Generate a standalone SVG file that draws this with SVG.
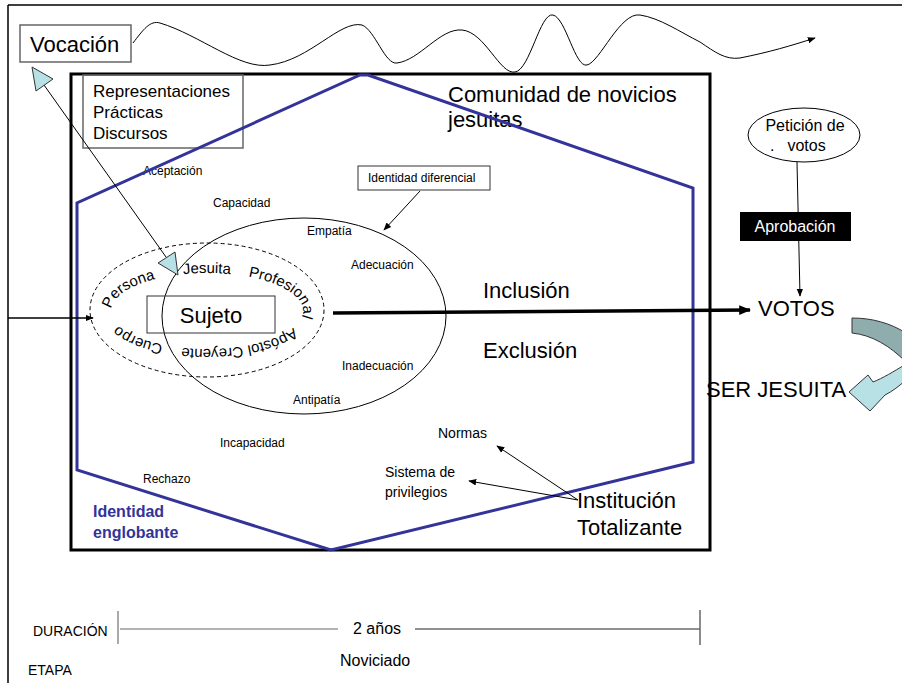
<svg xmlns="http://www.w3.org/2000/svg" width="902" height="683" viewBox="0 0 902 683">
<style>
text{font-family:"Liberation Sans",Arial,sans-serif;fill:#000}
.t12{font-size:12px}
.t14{font-size:14px}
.t15{font-size:15px}
.t16{font-size:16px}
.t17{font-size:17px}
.t22{font-size:22px}
.ln{fill:none;stroke:#000;stroke-width:1}
.box{fill:none;stroke:#666;stroke-width:1.5}
.tri{fill:#b7e1e4;stroke:#333;stroke-width:1}
.blue{fill:#333399;font-weight:bold;font-size:16px}
</style>
<defs>
<marker id="ah" viewBox="0 0 10 10" refX="9" refY="5" markerWidth="8" markerHeight="8" markerUnits="userSpaceOnUse" orient="auto"><path d="M0,1 L10,5 L0,9 z" fill="#000"/></marker>
<marker id="ahb" viewBox="0 0 10 10" refX="9" refY="5" markerWidth="12" markerHeight="12" markerUnits="userSpaceOnUse" orient="auto"><path d="M0,1 L10,5 L0,9 z" fill="#000"/></marker>
<path id="ring" d="M111,311 A96,38 0 1,1 303,311 A96,38 0 1,1 111,311"/>
</defs>

<g id="frame">
<path d="M8,5 H902 M8,5 V683" fill="none" stroke="#000" stroke-width="1.5"/>
</g>

<g id="institution-box">
<rect x="71" y="74" width="639" height="476" fill="none" stroke="#000" stroke-width="3"/>
</g>

<g id="vocacion">
<rect x="20" y="25" width="111" height="37" fill="#fff" stroke="#666" stroke-width="1.5"/>
<text class="t22" x="30" y="52">Vocación</text>
</g>

<g id="representaciones">
<rect class="box" x="83" y="75" width="160" height="73"/>
<text class="t17" x="93" y="97">Representaciones</text>
<text class="t17" x="93" y="118">Prácticas</text>
<text class="t17" x="93" y="139">Discursos</text>
</g>

<g id="comunidad">
<text class="t22" x="448" y="102">Comunidad de novicios</text>
<text class="t22" x="448" y="127">jesuitas</text>
</g>

<g id="labels-inner">
<text class="t12" x="143" y="175">Aceptación</text>
<text class="t12" x="213" y="207">Capacidad</text>
<text class="t12" x="307" y="235">Empatía</text>
<text class="t12" x="351" y="269">Adecuación</text>
<text class="t12" x="342" y="370">Inadecuación</text>
<text class="t12" x="293" y="404">Antipatía</text>
<text class="t12" x="220" y="447">Incapacidad</text>
<text class="t12" x="143" y="483">Rechazo</text>
</g>

<g id="identidad-diferencial">
<rect x="358" y="166" width="132" height="24" fill="#fff" stroke="#333" stroke-width="1"/>
<text class="t12" x="368" y="182">Identidad diferencial</text>
</g>

<g id="big-ellipse">
<ellipse cx="304" cy="316" rx="142" ry="98" fill="none" stroke="#000" stroke-width="1"/>
</g>

<g id="dashed-ellipse">
<ellipse cx="207" cy="310" rx="117" ry="67" fill="none" stroke="#000" stroke-width="1" stroke-dasharray="4 3"/>
<text class="t15" text-anchor="middle"><textPath href="#ring" startOffset="30">Persona</textPath></text>
<text class="t15" text-anchor="middle"><textPath href="#ring" startOffset="110">Jesuita</textPath></text>
<text class="t15" text-anchor="middle"><textPath href="#ring" startOffset="189">Profesional</textPath></text>
<text class="t15" text-anchor="middle"><textPath href="#ring" startOffset="265">Apóstol</textPath></text>
<text class="t15" text-anchor="middle"><textPath href="#ring" startOffset="325">Creyente</textPath></text>
<text class="t15" text-anchor="middle"><textPath href="#ring" startOffset="399">Cuerpo</textPath></text>
</g>

<g id="sujeto">
<rect x="147" y="296" width="128" height="37" fill="none" stroke="#333" stroke-width="1"/>
<text class="t22" x="211" y="323" text-anchor="middle">Sujeto</text>
</g>

<g id="inclusion">
<text class="t22" x="483" y="298">Inclusión</text>
<text class="t22" x="483" y="358">Exclusión</text>
</g>

<g id="peticion">
<ellipse cx="804" cy="135" rx="56" ry="27" fill="#fff" stroke="#000" stroke-width="1"/>
<text class="t16" x="805" y="131" text-anchor="middle">Petición de</text>
<text class="t16" y="151"><tspan x="770">.</tspan><tspan x="783"> votos</tspan></text>
</g>

<g id="votos">
<text class="t22" x="758" y="316">VOTOS</text>
</g>

<g id="ser-jesuita">
<text class="t22" x="706" y="397">SER JESUITA</text>
</g>

<g id="institucion">
<text class="t22" x="577" y="508">Institución</text>
<text class="t22" x="577" y="535">Totalizante</text>
</g>

<g id="normas">
<text class="t14" x="438" y="438">Normas</text>
<text class="t14" x="385" y="477">Sistema de</text>
<text class="t14" x="385" y="497">privilegios</text>
</g>

<g id="englobante">
<text class="blue" x="93" y="517">Identidad</text>
<text class="blue" x="93" y="538">englobante</text>
</g>

<g id="hexagon">
<polygon points="360,75 368,75 693,188 693,462 331,550 77,470 77,203" fill="none" stroke="#333399" stroke-width="3"/>
</g>

<g id="connectors">
<path class="ln" d="M133,43 C143,30 150,20 160,23 C200,35 240,70 270,65 C310,60 340,20 362,25 C375,30 385,65 397,63 C420,60 440,28 462,30 C485,32 500,75 515,72 C530,70 540,12 553,15 C566,18 575,68 587,65 C600,62 620,12 640,15 C660,18 680,32 700,42 C715,52 725,60 740,58 C770,52 790,46 815,38" marker-end="url(#ah)"/>
<line class="ln" x1="44" y1="85" x2="166" y2="257"/>
<polygon class="tri" points="32,67 53,79 36,91"/>
<polygon class="tri" points="178,275 158,263 175,252"/>
<line class="ln" x1="420" y1="191" x2="384" y2="230" marker-end="url(#ah)"/>
<line x1="8" y1="318" x2="93" y2="318" stroke="#000" stroke-width="1.5" marker-end="url(#ah)"/>
<line x1="333" y1="313" x2="750" y2="310" stroke="#000" stroke-width="3.5" marker-end="url(#ahb)"/>
<line class="ln" x1="797" y1="162" x2="800" y2="296" marker-end="url(#ah)"/>
<line class="ln" x1="578" y1="500" x2="497" y2="446" marker-end="url(#ah)"/>
<line class="ln" x1="578" y1="500" x2="469" y2="481" marker-end="url(#ah)"/>
</g>

<g id="curved-arrow">
<path d="M852,318 C872,318 890,323 906,333 L906,362 C890,346 872,335 852,333 Z" fill="#8fadad" stroke="#333" stroke-width="1"/>
<path d="M906,364 C893,372 883,378 873,382 L868,375 L849,392 L870,411 L885,395 C893,391 899,386 906,380 Z" fill="#b7e1e4" stroke="#333" stroke-width="1"/>
</g>

<g id="aprobacion">
<rect x="740" y="212" width="111" height="29" fill="#000"/>
<text class="t16" x="795" y="232" text-anchor="middle" style="fill:#fff">Aprobación</text>
</g>

<g id="timeline">
<line x1="118" y1="611" x2="118" y2="644" stroke="#555" stroke-width="1"/>
<line x1="120" y1="629" x2="338" y2="629" stroke="#666" stroke-width="1"/>
<line x1="415" y1="629" x2="700" y2="629" stroke="#222" stroke-width="1"/>
<line x1="700" y1="610" x2="700" y2="645" stroke="#666" stroke-width="1.5"/>
<text class="t14" x="33" y="636">DURACIÓN</text>
<text class="t16" x="353" y="634">2 años</text>
<text class="t16" x="340" y="666">Noviciado</text>
<text class="t14" x="28" y="675">ETAPA</text>
</g>
</svg>
